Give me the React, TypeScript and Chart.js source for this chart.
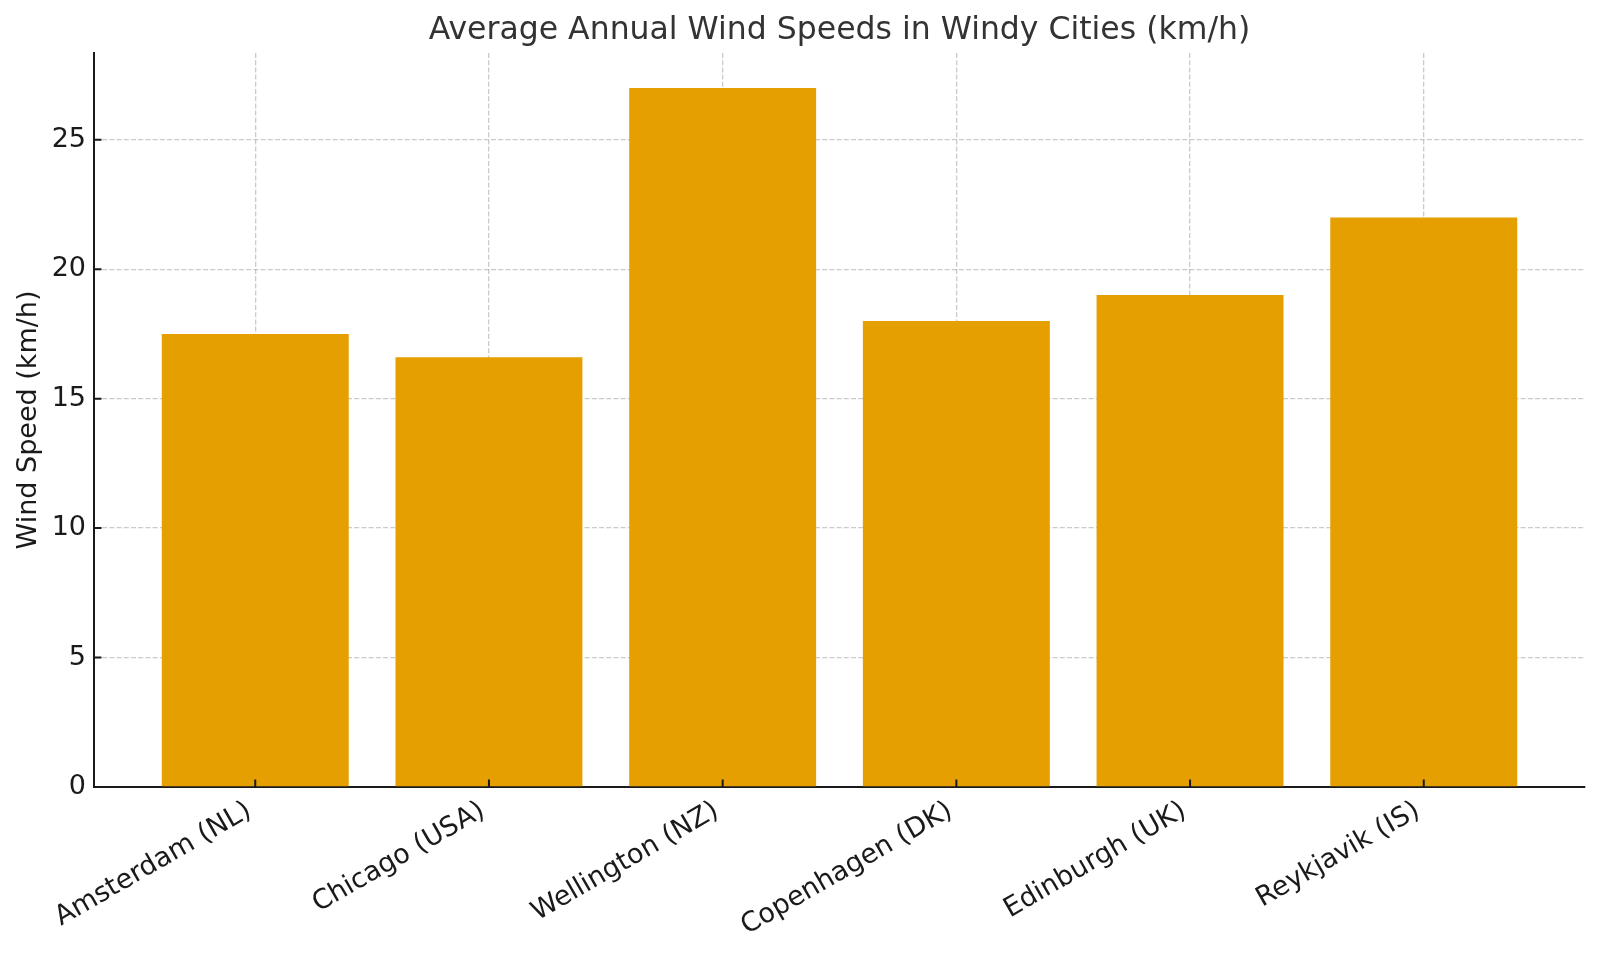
import { useEffect, useRef } from "react";
import { Chart, registerables } from "chart.js";

Chart.register(...registerables);

// Cities and their average annual wind speed (km/h)
const cities = [
  "Amsterdam (NL)",
  "Chicago (USA)",
  "Wellington (NZ)",
  "Copenhagen (DK)",
  "Edinburgh (UK)",
  "Reykjavik (IS)",
];
const windSpeeds = [17.5, 16.6, 27, 18, 19, 22];
const yTickValues = [0, 5, 10, 15, 20, 25];
const chartTitle = "Average Annual Wind Speeds in Windy Cities (km/h)";

const FONT = "'DejaVu Sans', 'Liberation Sans', sans-serif";
const BAR_COLOR = "#E69F00";
const INK = "#1a1a1a";
const GRID = "rgba(160,160,160,0.55)";

// Small inward tick marks on both axes, drawn over the bars
const inwardTicks = {
  id: "inwardTicks",
  afterDraw(chart: any) {
    const { ctx, chartArea, scales } = chart;
    const len = 7.5;
    ctx.save();
    ctx.strokeStyle = INK;
    ctx.lineWidth = 2;
    ctx.beginPath();
    scales.x.ticks.forEach((t: any) => {
      const px = scales.x.getPixelForValue(t.value);
      ctx.moveTo(px, chartArea.bottom);
      ctx.lineTo(px, chartArea.bottom - len);
    });
    scales.y.ticks.forEach((t: any) => {
      const py = scales.y.getPixelForValue(t.value);
      ctx.moveTo(chartArea.left, py);
      ctx.lineTo(chartArea.left + len, py);
    });
    ctx.stroke();
    ctx.restore();
  },
};

// Title centred over the plotting area rather than the whole canvas
const areaTitle = {
  id: "areaTitle",
  afterDraw(chart: any) {
    const { ctx, chartArea } = chart;
    ctx.save();
    ctx.fillStyle = "#333333";
    ctx.font = `31.5px ${FONT}`;
    ctx.textAlign = "center";
    ctx.textBaseline = "middle";
    ctx.fillText(chartTitle, (chartArea.left + chartArea.right) / 2, 31);
    ctx.restore();
  },
};

export default function App() {
  const canvasRef = useRef<HTMLCanvasElement | null>(null);

  useEffect(() => {
    const canvas = canvasRef.current;
    if (!canvas) return;

    const yMax = Math.max(...windSpeeds) * 1.05;
    const xPad = 0.05 * (cities.length - 1 + 0.8);

    const chart = new Chart(canvas, {
      type: "bar",
      data: {
        datasets: [
          {
            label: "Wind Speed (km/h)",
            data: windSpeeds.map((v, i) => ({ x: i, y: v })),
            backgroundColor: BAR_COLOR,
            borderWidth: 0,
            barPercentage: 1,
            categoryPercentage: 0.8,
          },
        ],
      },
      options: {
        animation: false,
        responsive: true,
        maintainAspectRatio: false,
        devicePixelRatio: 1,
        layout: { padding: { left: 0, right: 15, top: 53, bottom: 0 } },
        plugins: {
          legend: { display: false },
          tooltip: { enabled: false },
          title: { display: false },
        },
        scales: {
          x: {
            type: "linear",
            offset: false,
            min: -0.4 - xPad,
            max: cities.length - 1 + 0.4 + xPad,
            z: 1,
            afterBuildTicks: (scale: any) => {
              scale.ticks = cities.map((_, i) => ({ value: i }));
            },
            afterFit: (scale: any) => {
              scale.height = 167;
              scale.paddingLeft = 0;
              scale.paddingRight = 0;
            },
            ticks: {
              autoSkip: false,
              minRotation: 30,
              maxRotation: 30,
              padding: 8,
              labelOffset: -6,
              color: INK,
              font: { family: FONT, size: 27 },
              callback: (value: any) => cities[Number(value)] ?? "",
            },
            grid: {
              display: true,
              offset: false,
              drawTicks: false,
              tickLength: 0,
              color: GRID,
              lineWidth: 1.3,
            },
            border: { display: true, color: INK, width: 2, dash: [5, 2.2] },
          },
          y: {
            type: "linear",
            min: 0,
            max: yMax,
            z: 1,
            afterBuildTicks: (scale: any) => {
              scale.ticks = yTickValues.map((v) => ({ value: v }));
            },
            afterFit: (scale: any) => {
              scale.width = 94;
            },
            ticks: {
              padding: 8,
              color: INK,
              font: { family: FONT, size: 27 },
            },
            grid: {
              display: true,
              drawTicks: false,
              tickLength: 0,
              color: GRID,
              lineWidth: 1.3,
            },
            border: { display: true, color: INK, width: 2, dash: [5, 2.2] },
            title: {
              display: true,
              text: "Wind Speed (km/h)",
              color: INK,
              font: { family: FONT, size: 27 },
              padding: { top: 13, bottom: 0 },
            },
          },
        },
      },
      plugins: [inwardTicks, areaTitle],
    });

    return () => chart.destroy();
  }, []);

  return (
    <div
      style={{
        position: "absolute",
        left: 0,
        top: 0,
        width: 1600,
        height: 954,
        background: "#ffffff",
      }}
    >
      <canvas ref={canvasRef} />
    </div>
  );
}
